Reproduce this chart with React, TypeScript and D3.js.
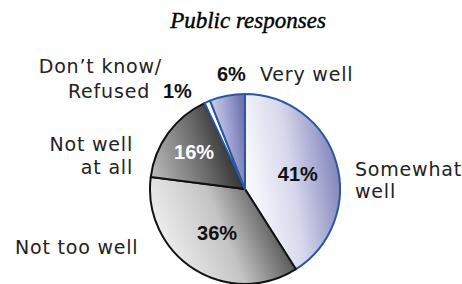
import React from 'react';
import * as d3 from 'd3';

// Public responses, share of answers (%)
const categories = ['Somewhat well', 'Not too well', 'Not well at all', "Don't know/Refused", 'Very well'];
const values = [41, 36, 16, 1, 6];
const valueLabels = ['41%', '36%', '16%', '1%', '6%'];

const width = 462;
const height = 284;
const cx = 245;
const cy = 189;
const radius = 95;

// slice look: gradient stops [left, mid, right] and outline
const fills = [
  ['#ffffff', '#d6d7ec', '#7b7fb8'],
  ['#f6f6f6', '#c4c4c4', '#2e2e2e'],
  ['#b4b4b4', '#6a6a6a', '#151515'],
  ['#ffffff', '#ffffff', '#ffffff'],
  ['#dcdcef', '#a9acd6', '#6f73b0'],
];
const strokes = ['#2b57a1', '#111', '#111', '#2b57a1', '#2b57a1'];

const labelFont = "'DejaVu Sans', Verdana, sans-serif";
const pctFont = "'Liberation Sans', Arial, sans-serif";

const App = () => {
  const pie = d3.pie<number>().sort(null).value(d => d);
  const arcs = pie(values);
  const arc = d3.arc<d3.PieArcDatum<number>>().innerRadius(0).outerRadius(radius);

  // inner % labels sit near the slice centroid
  const inner = (i: number, r: number, dx = 0, dy = 0) => {
    const c = d3.arc<d3.PieArcDatum<number>>().innerRadius(r).outerRadius(r).centroid(arcs[i]);
    return [cx + c[0] + dx, cy + c[1] + dy];
  };
  const p41 = inner(0, 55, 0, 7);
  const p36 = inner(1, 52, 0, 7);
  const p16 = inner(2, 63, 0, 7);

  return (
    <svg width={width} height={height} style={{ position: 'absolute', left: 0, top: 0, background: '#fff' }}>
      <defs>
        {fills.map((f, i) => (
          <linearGradient key={i} id={`g${i}`} x1="0" y1="0.65" x2="1" y2="0.35">
            <stop offset="0%" stopColor={f[0]} />
            <stop offset="50%" stopColor={f[1]} />
            <stop offset="100%" stopColor={f[2]} />
          </linearGradient>
        ))}
      </defs>

      <text x={248} y={28} textAnchor="middle" fontFamily="'Liberation Serif', 'Times New Roman', serif"
        fontStyle="italic" fontSize={23} fill="#000" stroke="#000" strokeWidth={0.4}>Public responses</text>

      <g transform={`translate(${cx},${cy})`}>
        {arcs.map((a, i) => (
          <path key={categories[i]} d={arc(a) || ''} fill={`url(#g${i})`} stroke={strokes[i]}
            strokeWidth={2} strokeLinejoin="round" />
        ))}
      </g>

      <g fontFamily={pctFont} fontWeight="bold" fontSize={20}>
        <text x={p41[0]} y={p41[1]} textAnchor="middle" fill="#111">{valueLabels[0]}</text>
        <text x={p36[0]} y={p36[1]} textAnchor="middle" fill="#111">{valueLabels[1]}</text>
        <text x={p16[0]} y={p16[1]} textAnchor="middle" fill="#fff">{valueLabels[2]}</text>
        <text x={163} y={98} fill="#111">{valueLabels[3]}</text>
        <text x={217} y={81} fill="#111">{valueLabels[4]}</text>
      </g>

      <g fontFamily={labelFont} fontSize={19} fill="#222" letterSpacing={0.8}>
        <text x={355} y={176}>Somewhat</text>
        <text x={355} y={198}>well</text>
        <text x={15} y={254}>Not too well</text>
        <text x={133} y={151} textAnchor="end">Not well</text>
        <text x={133} y={174} textAnchor="end">at all</text>
        <text x={162} y={73} textAnchor="end">Don’t know/</text>
        <text x={150} y={98} textAnchor="end">Refused</text>
        <text x={260} y={81}>Very well</text>
      </g>
    </svg>
  );
};

export default App;
